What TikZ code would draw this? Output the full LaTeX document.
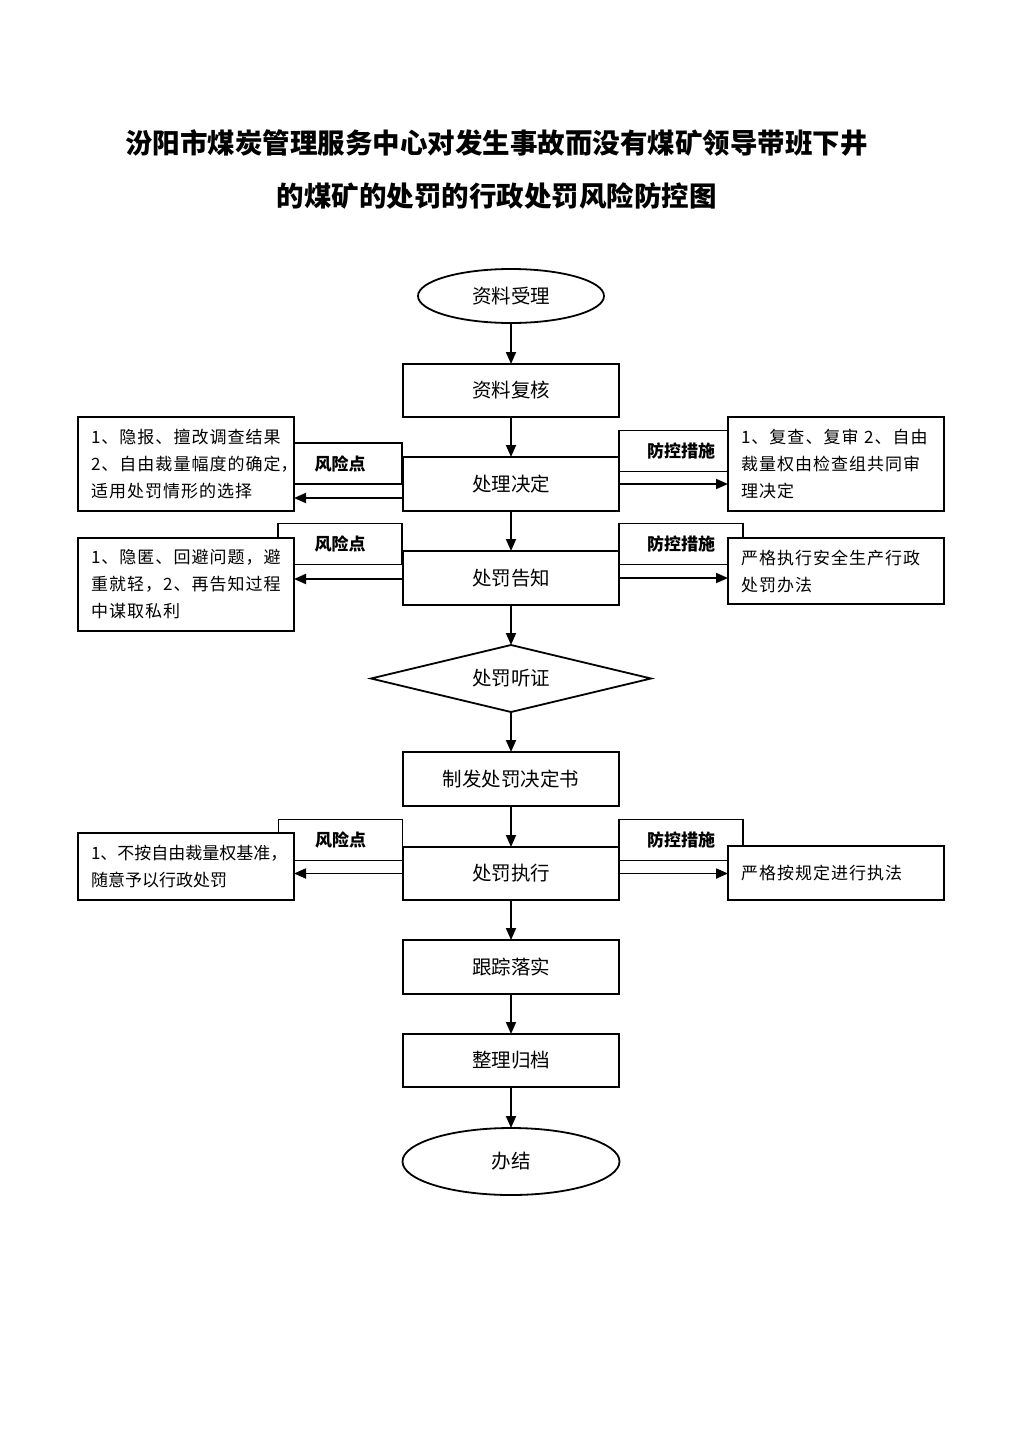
\documentclass[tikz,border=0pt]{standalone}
\usepackage{fontspec}
\setmainfont{Noto Sans CJK SC}
\usetikzlibrary{shapes.geometric,arrows.meta}
\newcommand{\tailcomma}{\makebox[9pt][l]{，}}
\begin{document}
\begin{tikzpicture}[x=1pt,y=-1pt,
  line width=1.8pt,
  every node/.style={inner sep=0pt, outer sep=0pt},
  box/.style={draw, fill=white, minimum width=216pt, minimum height=54pt, font=\fontsize{19.5}{23}\selectfont},
  side/.style={draw, fill=white, minimum width=216pt, text width=190pt, align=left, inner xsep=13pt, font=\fontsize{17}{27}\selectfont\addfontfeature{LetterSpace=6}},
  tag/.style={draw, fill=white, minimum width=124pt, minimum height=41pt, font=\bfseries\fontsize{17}{20}\selectfont},
  arr/.style={-{Triangle[length=12pt,width=10pt]}},
  ttl/.style={font=\bfseries\fontsize{27.5}{30}\selectfont},
]
\useasboundingbox (0,0) rectangle (1024,1448);
\fill[white] (0,0) rectangle (1024,1448);

% title
\node[ttl] (t1) at (496.5,143) {汾阳市煤炭管理服务中心对发生事故而没有煤矿领导带班下井};
\node[ttl] (t2) at (496.5,196) {的煤矿的处罚的行政处罚风险防控图};

% tags (drawn first, partially covered)
\node[tag] (k1) at (340,463.5) {风险点};
\node[tag] (p1) at (681,451) {防控措施};
\node[tag] (k2) at (340,544) {风险点};
\node[tag] (p2) at (681,544) {防控措施};
\node[tag] (k3) at (340.5,840) {风险点};
\node[tag] (p3) at (681,840) {防控措施};

% main column
\node[ellipse, draw, fill=white, minimum width=186pt, minimum height=54pt, font=\fontsize{19.5}{23}\selectfont] (s) at (511,296) {资料受理};
\node[box, minimum height=53pt] (fh) at (511,390.5) {资料复核};
\node[box] (jd) at (511,484) {处理决定};
\node[box] (gz) at (511,578) {处罚告知};
\node[diamond, draw, fill=white, aspect=4.2, minimum width=280pt, minimum height=67pt, font=\fontsize{19.5}{23}\selectfont] (tz) at (511,678.5) {处罚听证};
\node[box] (zf) at (511,779) {制发处罚决定书};
\node[box, minimum height=53pt] (zx) at (511,873.5) {处罚执行};
\node[box] (gl) at (511,967) {跟踪落实};
\node[box, minimum height=53pt] (zl) at (511,1060.5) {整理归档};
\node[ellipse, draw, fill=white, minimum width=217pt, minimum height=67pt, font=\fontsize{19.5}{23}\selectfont] (bj) at (511,1161.5) {办结};

% side boxes
\node[side, minimum height=94pt] (l1) at (186,464) {1、隐报、擅改调查结果\\2、自由裁量幅度的确定\tailcomma\\适用处罚情形的选择};
\node[side, minimum height=94pt] (r1) at (836,464) {1、复查、复审 2、自由\\裁量权由检查组共同审\\理决定};
\node[side, minimum height=93pt] (l2) at (186,584.5) {1、隐匿、回避问题，避\\重就轻，2、再告知过程\\中谋取私利};
\node[side, minimum height=66pt] (r2) at (836,571) {严格执行安全生产行政\\处罚办法};
\node[side, minimum height=67pt] (l3) at (186,866.5) {{\addfontfeature{LetterSpace=0}1、不按自由裁量权基准\tailcomma}\\{\addfontfeature{LetterSpace=0}随意予以行政处罚}};
\node[side, minimum height=54pt] (r3) at (836,873) {严格按规定进行执法};

% vertical flow
\draw[arr] (s.south) -- (fh.north);
\draw[arr] (fh.south) -- (jd.north);
\draw[arr] (jd.south) -- (gz.north);
\draw[arr] (gz.south) -- (tz.north);
\draw[arr] (tz.south) -- (zf.north);
\draw[arr] (zf.south) -- (zx.north);
\draw[arr] (zx.south) -- (gl.north);
\draw[arr] (gl.south) -- (zl.north);
\draw[arr] (zl.south) -- (bj.north);

% side arrows
\path (jd.west) ++(0,14) coordinate (a1);
\draw[arr] (a1) -- (a1 -| l1.east);
\draw[arr] (jd.east) -- (jd.east -| r1.west);
\path (gz.west) ++(0,1) coordinate (a2);
\draw[arr] (a2) -- (a2 -| l2.east);
\draw[arr] (gz.east) -- (gz.east -| r2.west);
\draw[arr] (zx.west) -- (zx.west -| l3.east);
\draw[arr] (zx.east) -- (zx.east -| r3.west);
\end{tikzpicture}
\end{document}
